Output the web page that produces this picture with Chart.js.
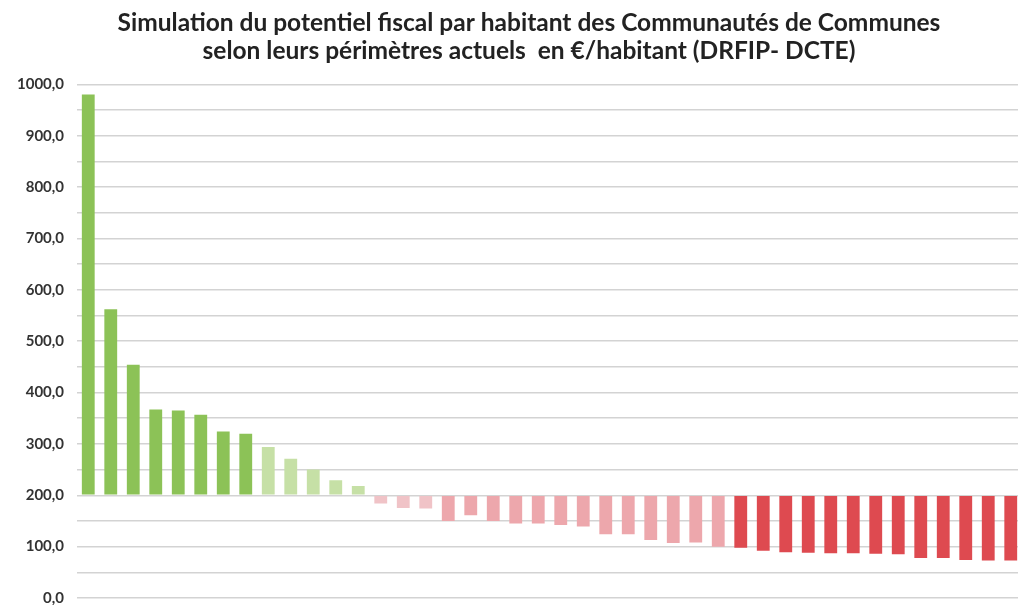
<!DOCTYPE html>
<html lang="fr">
<head>
<meta charset="utf-8">
<title>Potentiel fiscal par habitant</title>
<script src="https://cdn.jsdelivr.net/npm/chart.js@4"></script>
<style>
  html, body { margin: 0; padding: 0; background: #fff; overflow: hidden; }
  #wrap { width: 1054px; height: 620px; position: relative; }
</style>
</head>
<body>
<div id="wrap"><canvas id="bar-chart"></canvas></div>
<script>
// Potentiel fiscal par habitant (EUR/hab) de chaque Communauté de Communes, trié
var communautes = [];
for (var i = 1; i <= 42; i++) communautes.push('CC ' + i);

var potentiel = [
  980, 562, 454, 367, 365, 357, 324, 320,
  294, 271, 250, 229, 218,
  184, 175, 174, 150, 161, 150, 145, 145, 142, 139, 124, 124, 113, 107, 108, 100,
  98, 92, 89, 88, 87, 87, 86, 85, 78, 78, 74, 73, 73
];

var moyenne = 200; // les barres partent de cette valeur

var titre = [
  'Simulation du potentiel fiscal par habitant des Communautés de Communes',
  'selon leurs périmètres actuels  en €/habitant (DRFIP- DCTE)'
];

function couleur(v) {
  if (v >= 300) return '#8cc257';
  if (v >= 200) return '#c6e0a6';
  if (v >= 170) return '#f0c3c7';
  if (v >= 100) return '#eda7ac';
  return '#de4a50';
}

var ctx = document.getElementById('bar-chart').getContext('2d');
var myChart = new Chart(ctx, {
    type: 'bar',
    data: {
        labels: communautes,
        datasets: [{
            label: 'Potentiel fiscal',
            data: potentiel,
            base: moyenne,
            backgroundColor: potentiel.map(couleur),
            borderWidth: 0,
            categoryPercentage: 1,
            barPercentage: 0.57
        }]
    },
    options: {
        responsive: true,
        maintainAspectRatio: false,
        animation: false,
        layout: { padding: { left: 4, right: 0, top: 0, bottom: 2 } },
        plugins: {
            legend: { display: false },
            tooltip: { enabled: false },
            title: {
                display: true,
                text: titre,
                color: '#222',
                font: { family: 'Lato', size: 24.5, weight: 'bold', lineHeight: 1.15 },
                padding: { top: 9, bottom: 19 }
            }
        },
        scales: {
            x: {
                grid: { display: false },
                border: { display: false },
                ticks: { display: false }
            },
            y: {
                min: 0,
                max: 1000,
                border: { display: false },
                grid: { color: '#d3d3d3', lineWidth: 1.5, drawTicks: false },
                ticks: {
                    stepSize: 50,
                    padding: 13,
                    color: '#333',
                    font: { family: 'Lato', size: 15, weight: 'bold' },
                    callback: function (v) {
                        return v % 100 === 0 ? v.toFixed(1).replace('.', ',') : '';
                    }
                }
            },
            // axe vide à droite, juste pour laisser de la marge
            marge: {
                position: 'right',
                min: 0,
                max: 1000,
                grid: { display: false },
                border: { display: false },
                ticks: { display: false },
                afterFit: function (scale) { scale.width = 32; }
            }
        }
    }
});
</script>
</body>
</html>
